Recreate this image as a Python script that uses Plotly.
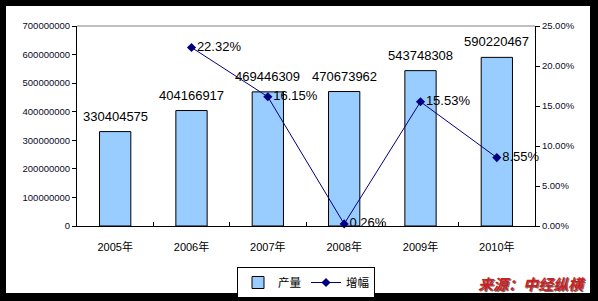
import plotly.graph_objects as go

# Annual output and year-on-year growth
years = ["2005年", "2006年", "2007年", "2008年", "2009年", "2010年"]
output = [330404575, 404166917, 469446309, 470673962, 543748308, 590220467]
growth = [None, 0.2232, 0.1615, 0.0026, 0.1553, 0.0855]
growth_labels = [None, "22.32%", "16.15%", "0.26%", "15.53%", "8.55%"]

W, H = 598, 301
L, R, T, B = 77, 63, 26, 75
pw, ph = W - L - R, H - T - B


def px_to_paper(x, y):
    return (x - L) / pw, (H - B - y) / ph


num_font = "Liberation Sans, Arial, sans-serif"
cjk_font = "Liberation Sans, Noto Sans CJK SC, sans-serif"

fig = go.Figure()

fig.add_trace(go.Bar(
    x=years, y=output, name="产量",
    marker=dict(color="#99CCFF", line=dict(color="#000000", width=1)),
    width=0.41,
))

fig.add_trace(go.Scatter(
    x=years, y=growth, name="增幅", yaxis="y2",
    mode="lines+markers+text",
    line=dict(color="#000080", width=1),
    marker=dict(symbol="diamond", size=7, color="#000080"),
    text=growth_labels, textposition="middle right",
    textfont=dict(family=num_font, size=13, color="#000000"),
    cliponaxis=False,
))

# value labels above the bars
for yr, v in zip(years, output):
    fig.add_annotation(
        x=yr, y=v, xref="x", yref="y", text=str(v), showarrow=False,
        yanchor="bottom", yshift=6,
        font=dict(family=num_font, size=13, color="#000000"),
    )

# white card inside the black frame
x0, y0 = px_to_paper(6, 293)
x1, y1 = px_to_paper(590, 6)
fig.add_shape(type="rect", xref="paper", yref="paper", x0=x0, x1=x1, y0=y0, y1=y1,
              fillcolor="#FFFFFF", line=dict(width=0), layer="below")
# grey top edge of plot area
fig.add_shape(type="line", xref="paper", yref="paper", x0=0, x1=1, y0=1, y1=1,
              line=dict(color="#808080", width=1))

# source note
sx, sy = px_to_paper(588, 296)
for dx, dy, col in [(1, -1, "#7a6a6a"), (0, 0, "#CC1F1F")]:
    fig.add_annotation(
        xref="paper", yref="paper", x=sx, y=sy, xanchor="right", yanchor="bottom",
        xshift=dx, yshift=dy, showarrow=False,
        text="<b><i>来源：中经纵横</i></b>",
        font=dict(family="Noto Sans CJK SC, sans-serif", size=15, color=col),
    )

lx, ly = px_to_paper(306, 267)

fig.update_layout(
    width=W, height=H,
    margin=dict(l=L, r=R, t=T, b=B, pad=0, autoexpand=False),
    paper_bgcolor="#000000",
    plot_bgcolor="rgba(0,0,0,0)",
    showlegend=True,
    bargap=0.59,
    legend=dict(
        orientation="h", x=lx, y=ly, xanchor="center", yanchor="top",
        bgcolor="#FFFFFF", bordercolor="#000000", borderwidth=1,
        font=dict(family=cjk_font, size=11.5, color="#000000"),
        itemwidth=30,
    ),
    xaxis=dict(
        type="category", showline=True, linecolor="#000000", linewidth=1,
        ticks="inside", tickson="boundaries", ticklen=4, tickcolor="#000000",
        tickfont=dict(family=cjk_font, size=11, color="#000000"),
        ticklabelstandoff=11, showgrid=False, fixedrange=True,
    ),
    yaxis=dict(
        range=[0, 700000000], dtick=100000000, tickformat="d",
        showline=True, linecolor="#000000", linewidth=1,
        ticks="outside", ticklen=4, tickcolor="#000000",
        tickfont=dict(family=num_font, size=9.5, color="#0a0a2a"),
        showgrid=False, zeroline=False,
    ),
    yaxis2=dict(
        overlaying="y", side="right", range=[0, 0.25], dtick=0.05,
        tickformat=".2%", showline=True, linecolor="#000000", linewidth=1,
        ticks="outside", ticklen=4, tickcolor="#000000",
        tickfont=dict(family=num_font, size=9.5, color="#0a0a2a"),
        showgrid=False, zeroline=False,
    ),
)

fig.write_html("out.html")
